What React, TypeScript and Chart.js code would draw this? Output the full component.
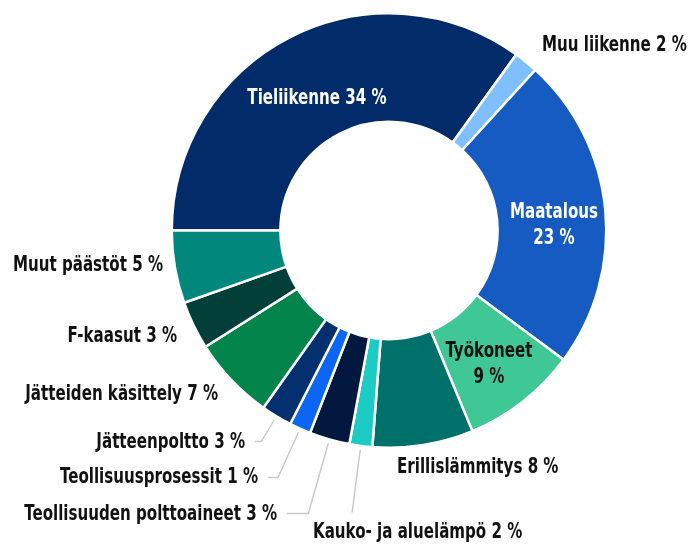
import React, { useEffect, useRef } from "react";
import { Chart, registerables } from "chart.js";

Chart.register(...registerables);

// ---- data ----
const categories = [
  "Tieliikenne",
  "Muu liikenne",
  "Maatalous",
  "Työkoneet",
  "Erillislämmitys",
  "Kauko- ja aluelämpö",
  "Teollisuuden polttoaineet",
  "Teollisuusprosessit",
  "Jätteenpoltto",
  "Jätteiden käsittely",
  "F-kaasut",
  "Muut päästöt",
];
// shares of the ring as drawn (percent)
const shares = [35.0, 1.8, 23.4, 8.6, 7.5, 1.7, 3.0, 1.6, 2.3, 6.2, 3.6, 5.4];
// printed (rounded) percentages
const percentLabels = ["34 %", "2 %", "23 %", "9 %", "8 %", "2 %", "3 %", "1 %", "3 %", "7 %", "3 %", "5 %"];
const colors = [
  "#022b6a",
  "#80bfff",
  "#165bc1",
  "#3fc795",
  "#00716a",
  "#1ccbc3",
  "#03183f",
  "#0b66f2",
  "#04306f",
  "#02844b",
  "#013f38",
  "#02877c",
];

// ---- label placement (relative to ring centre) ----
type Placement = {
  mode: "inside1" | "inside2" | "outside";
  dx: number;
  dy: number;
  align: CanvasTextAlign;
  color: string;
  leader?: { toY: number; toX?: number };
};
const placements: Placement[] = [
  { mode: "inside1", dx: -72, dy: -132, align: "center", color: "#ffffff" },
  { mode: "outside", dx: 153, dy: -185, align: "left", color: "#111111" },
  { mode: "inside2", dx: 165, dy: -5, align: "center", color: "#ffffff" },
  { mode: "inside2", dx: 100, dy: 134, align: "center", color: "#111111" },
  { mode: "outside", dx: 8, dy: 237, align: "left", color: "#111111" },
  { mode: "outside", dx: -76, dy: 302, align: "left", color: "#111111", leader: { toY: 282 } },
  { mode: "outside", dx: -112, dy: 284, align: "right", color: "#111111", leader: { toY: 283, toX: -102 } },
  { mode: "outside", dx: -131, dy: 247, align: "right", color: "#111111", leader: { toY: 247, toX: -121 } },
  { mode: "outside", dx: -144, dy: 212, align: "right", color: "#111111", leader: { toY: 211, toX: -134 } },
  { mode: "outside", dx: -171, dy: 164, align: "right", color: "#111111" },
  { mode: "outside", dx: -212, dy: 106, align: "right", color: "#111111" },
  { mode: "outside", dx: -226, dy: 35, align: "right", color: "#111111" },
];

const FONT_FAMILY = '"Liberation Sans Narrow", "DejaVu Sans Condensed", "DejaVu Sans", sans-serif';
const FONT_SIZE = 21;
const LINE_GAP = 26;

const labelPlugin = {
  id: "sliceLabels",
  afterDatasetsDraw(chart: any) {
    const meta = chart.getDatasetMeta(0);
    const ctx: CanvasRenderingContext2D = chart.ctx;
    if (!meta.data.length) return;
    const cx = meta.data[0].x;
    const cy = meta.data[0].y;
    ctx.save();
    ctx.font = `bold ${FONT_SIZE}px ${FONT_FAMILY}`;
    const squeeze = Math.min(1, 150 / ctx.measureText("Muut päästöt 5 %").width);
    const drawText = (text: string, x: number, y: number, align: CanvasTextAlign, color: string) => {
      ctx.save();
      ctx.translate(x, y);
      ctx.scale(squeeze, 1);
      ctx.textAlign = align;
      ctx.textBaseline = "middle";
      ctx.fillStyle = color;
      ctx.fillText(text, 0, 0);
      ctx.restore();
    };
    meta.data.forEach((arc: any, i: number) => {
      const p = placements[i];
      const { startAngle, endAngle, outerRadius } = arc.getProps(
        ["startAngle", "endAngle", "outerRadius"],
        true
      );
      const mid = (startAngle + endAngle) / 2;
      if (p.leader) {
        const r0 = outerRadius + 4;
        const sx = cx + Math.cos(mid) * r0;
        const sy = cy + Math.sin(mid) * r0;
        const ey = cy + p.leader.toY;
        const t = (ey - sy) / Math.sin(mid);
        const ex = sx + Math.cos(mid) * t;
        ctx.beginPath();
        ctx.moveTo(sx, sy);
        ctx.lineTo(ex, ey);
        if (p.leader.toX !== undefined) ctx.lineTo(cx + p.leader.toX, ey);
        ctx.strokeStyle = "#c8c8c8";
        ctx.lineWidth = 1.4;
        ctx.stroke();
      }
      const x = cx + p.dx;
      const y = cy + p.dy;
      if (p.mode === "inside2") {
        drawText(categories[i], x, y - LINE_GAP / 2, p.align, p.color);
        drawText(percentLabels[i], x, y + LINE_GAP / 2, p.align, p.color);
      } else {
        drawText(`${categories[i]} ${percentLabels[i]}`, x, y, p.align, p.color);
      }
    });
    ctx.restore();
  },
};

export default function App() {
  const ref = useRef<HTMLCanvasElement>(null);
  useEffect(() => {
    document.body.style.margin = "0";
    const canvas = ref.current!;
    const chart = new Chart(canvas, {
      type: "doughnut",
      data: {
        labels: categories,
        datasets: [
          {
            data: shares,
            backgroundColor: colors,
            borderColor: "#ffffff",
            borderWidth: 2.5,
            hoverOffset: 0,
          },
        ],
      },
      options: {
        responsive: false,
        animation: false,
        devicePixelRatio: 1,
        rotation: -90,
        cutout: "50%",
        layout: { padding: { left: 170.5, top: 12, right: 85.5, bottom: 98 } },
        plugins: {
          legend: { display: false },
          tooltip: { enabled: false },
        },
      },
      plugins: [labelPlugin],
    });
    return () => chart.destroy();
  }, []);
  return (
    <div style={{ width: 693, height: 547, background: "#ffffff" }}>
      <canvas ref={ref} width={693} height={547} style={{ display: "block" }} />
    </div>
  );
}
